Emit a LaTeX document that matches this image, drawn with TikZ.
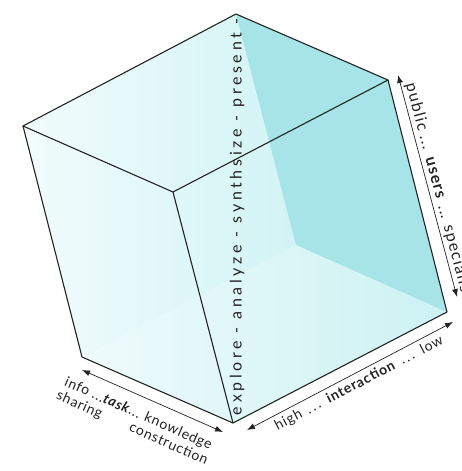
\documentclass[tikz,border=0pt]{standalone}
\usepackage{fontspec}
\setmainfont{Lato}
\usepackage{tikz}
\usetikzlibrary{arrows.meta, positioning, calc}

\definecolor{cubedark}{RGB}{166,228,231}
\definecolor{cubelight}{RGB}{242,252,252}
\definecolor{cubemid}{RGB}{192,239,241}
\definecolor{edgegray}{RGB}{35,35,35}

\begin{document}
\begin{tikzpicture}[x=1pt, y=-1pt,
    edge/.style={line width=1.1pt, edgegray, line join=round},
    axis/.style={line width=0.7pt, edgegray, {Latex[length=8pt,width=6pt]}-{Latex[length=8pt,width=6pt]}},
    lbl/.style={font=\fontsize{14}{16}\selectfont\addfontfeatures{LetterSpace=5}, text=edgegray, inner sep=2pt}]
    \clip (0,0) rectangle (462,471);

    % Cube corners
    \coordinate (top) at (236,14);
    \coordinate (tr) at (388,80);
    \coordinate (lft) at (23,126);
    \coordinate (ctr) at (173,192);
    \coordinate (bl) at (82,357);
    \coordinate (bot) at (233,423);
    \coordinate (br) at (447,312);
    \coordinate (back) at (296,245);

    % Faces
    \shade[left color=cubelight, right color=cubemid] (lft) -- (top) -- (tr) -- (br) -- (bot) -- (bl) -- cycle;
    \fill[cubedark] (top) -- (tr) -- (br) -- (back) -- cycle;
    \fill[white, opacity=0.2] (back) -- (br) -- (bot) -- (bl) -- cycle;

    % Edges
    \draw[edge] (lft) -- (top) -- (tr) -- (ctr) -- cycle;
    \draw[edge] (ctr) -- (bot);
    \draw[edge] (lft) -- (bl) -- (bot) -- (br) -- (tr);

    % Phases
    \node[lbl, rotate=90, font=\fontsize{16}{18}\selectfont\addfontfeatures{LetterSpace=23}] (phase) at (237,217) {explore - analyze - synthsize - present -};

    % Users
    \coordinate (u1) at (398,75);
    \coordinate (u2) at (457,297);
    \draw[axis] (u1) -- node[lbl, sloped, pos=0.04, anchor=south west, font=\fontsize{16}{18}\selectfont\addfontfeatures{LetterSpace=8}] (users) {public ... \textbf{users} ... specialists} (u2);

    % Interaction
    \coordinate (i1) at (247,430);
    \coordinate (i2) at (453,322);
    \draw[axis] (i1) -- node[lbl, sloped, below=2pt, pos=0.52, font=\fontsize{14}{16}\selectfont\addfontfeatures{LetterSpace=6}] (inter) {high \,.\,.\,.\, \textbf{interaction} \,.\,.\,.\, low} (i2);

    % Task
    \coordinate (t1) at (82,370);
    \coordinate (t2) at (223,432);
    \draw[axis] (t1) -- node[lbl, sloped, below=9pt, pos=0.45] (task) {info ...\textbf{\textit{task}}... knowledge} (t2);
    \node[lbl, rotate=-23.7, anchor=north west, inner sep=0pt] (share) at (task.south west) {sharing};
    \node[lbl, rotate=-23.7, anchor=north east, inner sep=0pt] (constr) at (task.south east) {construction};
\end{tikzpicture}
\end{document}
